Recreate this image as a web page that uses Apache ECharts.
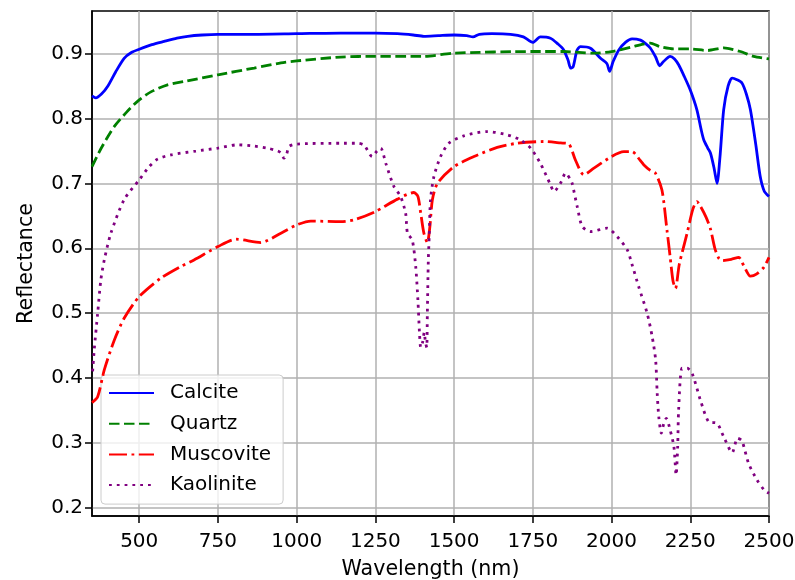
<!DOCTYPE html>
<html>
<head>
<meta charset="utf-8">
<script src="https://cdn.jsdelivr.net/npm/echarts@6/dist/echarts.min.js"></script>
<style>
html,body{margin:0;padding:0;background:#fff;}
#chart{width:795px;height:580px;}
</style>
</head>
<body>
<div id="chart"></div>
<script>
// Tick labels
var xTicks = [500, 750, 1000, 1250, 1500, 1750, 2000, 2250, 2500];
var yTicks = [0.2, 0.3, 0.4, 0.5, 0.6, 0.7, 0.8, 0.9];

var seriesNames = ['Calcite', 'Quartz', 'Muscovite', 'Kaolinite'];

// Calcite
var calciteWl = [350,362,380,400,425,452,475,500,540,579,620,654,700,750,850,1000,1140,1250,1320,1370,1404,1450,1500,1540,1560,1580,1620,1679,1720,1750,1774,1806,1830,1848,1862,1870,1878,1890,1901,1933,1965,1985,1994,2005,2023,2045,2065,2092,2110,2123,2140,2153,2165,2186,2200,2213,2230,2250,2271,2285,2293,2305,2314,2325,2335,2345,2356,2370,2383,2398,2414,2428,2441,2458,2472,2485,2500];
var calciteVal = [0.835,0.832,0.838,0.850,0.872,0.893,0.902,0.907,0.914,0.919,0.924,0.927,0.929,0.930,0.930,0.931,0.932,0.932,0.931,0.929,0.927,0.928,0.929,0.928,0.926,0.930,0.931,0.930,0.926,0.9175,0.926,0.924,0.915,0.906,0.890,0.878,0.880,0.905,0.911,0.9085,0.893,0.885,0.873,0.888,0.906,0.918,0.923,0.921,0.915,0.909,0.895,0.8815,0.888,0.896,0.892,0.883,0.866,0.844,0.8135,0.782,0.767,0.755,0.747,0.725,0.700,0.745,0.8135,0.850,0.8625,0.860,0.855,0.838,0.8135,0.760,0.711,0.688,0.680];

// Quartz
var quartzWl = [350,380,421,460,500,540,590,650,750,865,950,1000,1140,1250,1404,1500,1750,1848,1944,2000,2060,2100,2123,2153,2197,2250,2304,2356,2409,2451,2500];
var quartzVal = [0.726,0.755,0.788,0.810,0.829,0.842,0.852,0.858,0.8676,0.878,0.886,0.889,0.895,0.896,0.896,0.901,0.9035,0.9035,0.901,0.9035,0.910,0.915,0.9165,0.911,0.9075,0.9075,0.905,0.909,0.9035,0.896,0.892];

// Muscovite
var muscoviteWl = [350,368,389,421,452,500,569,632,674,750,807,886,950,1000,1045,1140,1182,1250,1320,1372,1385,1394,1404,1415,1423,1431,1447,1500,1563,1637,1700,1785,1838,1864,1885,1912,1944,2000,2039,2065,2092,2102,2123,2139,2160,2176,2186,2195,2203,2215,2240,2258,2271,2282,2300,2314,2328,2340,2351,2380,2404,2420,2441,2460,2484,2500];
var muscoviteVal = [0.362,0.371,0.4123,0.4586,0.492,0.5255,0.554,0.572,0.582,0.6026,0.614,0.6088,0.6233,0.636,0.642,0.641,0.6438,0.6566,0.6758,0.686,0.680,0.654,0.6233,0.609,0.633,0.675,0.700,0.726,0.7415,0.7555,0.762,0.7647,0.7625,0.761,0.7364,0.7133,0.7236,0.7415,0.749,0.749,0.735,0.729,0.720,0.716,0.690,0.628,0.587,0.550,0.538,0.575,0.6233,0.660,0.672,0.665,0.648,0.630,0.600,0.585,0.581,0.583,0.586,0.573,0.557,0.560,0.571,0.586];

// Kaolinite
var kaoliniteWl = [352,357,368,378,389,410,452,500,530,558,600,680,750,812,860,907,940,950,960,968,976,1000,1140,1193,1214,1240,1255,1267,1283,1309,1330,1346,1352,1367,1378,1385,1390,1394,1400,1405,1409,1413,1415,1418,1421,1425,1436,1457,1483,1531,1605,1669,1711,1743,1774,1806,1817,1838,1854,1870,1875,1891,1907,1933,1986,2018,2050,2065,2086,2113,2129,2140,2145,2150,2158,2166,2174,2186,2198,2205,2210,2213,2224,2240,2256,2282,2308,2335,2356,2383,2400,2414,2435,2462,2485,2500];
var kaoliniteVal = [0.41,0.4432,0.4998,0.551,0.582,0.6233,0.675,0.7055,0.725,0.7375,0.744,0.750,0.7545,0.7596,0.758,0.7545,0.750,0.747,0.739,0.745,0.757,0.7607,0.762,0.762,0.759,0.7415,0.750,0.7545,0.731,0.695,0.680,0.654,0.623,0.613,0.572,0.52,0.47,0.447,0.455,0.47,0.455,0.447,0.50,0.58,0.62,0.675,0.711,0.7415,0.762,0.7735,0.780,0.775,0.767,0.7545,0.731,0.698,0.6875,0.7005,0.716,0.7055,0.700,0.664,0.6335,0.6258,0.631,0.618,0.5975,0.575,0.541,0.4998,0.4637,0.4278,0.376,0.340,0.3147,0.330,0.3377,0.3198,0.294,0.2503,0.294,0.351,0.415,0.415,0.407,0.366,0.3326,0.330,0.3094,0.2847,0.307,0.303,0.2684,0.2426,0.227,0.222];

function pairs(xs, ys) {
  var out = [];
  for (var i = 0; i < xs.length; i++) out.push([xs[i], ys[i]]);
  return out;
}

var FONT = 'DejaVu Sans';
var chart = echarts.init(document.getElementById('chart'), null, {renderer: 'canvas'});

function mkSeries(name, xs, ys, color, dash, z) {
  return {
    name: name,
    type: 'line',
    data: pairs(xs, ys),
    symbol: 'none',
    showSymbol: false,
    smooth: 0.25,
    z: z,
    lineStyle: {color: color, width: 2.8, type: dash, cap: 'butt'},
    itemStyle: {color: color},
    emphasis: {disabled: true}
  };
}

chart.setOption({
  animation: false,
  backgroundColor: '#ffffff',
  grid: {
    left: 92, right: 26, top: 11, bottom: 64,
    outerBoundsMode: 'none',
    containLabel: false,
    show: true, borderColor: '#000', borderWidth: 1.5, backgroundColor: 'transparent'
  },
  legend: {
    orient: 'vertical',
    left: 101, top: 375,
    data: seriesNames,
    itemWidth: 45,
    itemHeight: 12,
    itemGap: 10.7,
    padding: [8, 12, 9, 7],
    backgroundColor: 'rgba(255,255,255,0.8)',
    borderColor: '#cccccc',
    borderWidth: 1,
    borderRadius: 4,
    itemStyle: {opacity: 0},
    textStyle: {fontFamily: FONT, fontSize: 20, color: '#000', padding: [0, 0, 0, 11]}
  },
  xAxis: {
    type: 'value',
    min: 350, max: 2500,
    name: 'Wavelength (nm)',
    nameLocation: 'middle',
    nameGap: 43,
    nameTextStyle: {fontFamily: FONT, fontSize: 20.6, color: '#000'},
    axisLine: {show: true, onZero: false, lineStyle: {color: '#000', width: 1.5}},
    axisTick: {show: true, length: 7, customValues: xTicks, lineStyle: {color: '#000', width: 1.5}},
    axisLabel: {customValues: xTicks, fontFamily: FONT, fontSize: 20, color: '#000', margin: 16,
      formatter: function (v) { return String(v); }},
    splitLine: {show: true, lineStyle: {color: '#b0b0b0', width: 1.5}}
  },
  yAxis: {
    type: 'value',
    min: 0.187, max: 0.966,
    name: 'Reflectance',
    nameLocation: 'middle',
    nameGap: 55,
    nameRotate: 90,
    nameTextStyle: {fontFamily: FONT, fontSize: 20.6, color: '#000'},
    axisLine: {show: true, onZero: false, lineStyle: {color: '#000', width: 1.5}},
    axisTick: {show: true, length: 7, customValues: yTicks, lineStyle: {color: '#000', width: 1.5}},
    axisLabel: {customValues: yTicks, fontFamily: FONT, fontSize: 20, color: '#000', margin: 9,
      formatter: function (v) { return v.toFixed(1); }},
    splitLine: {show: true, lineStyle: {color: '#b0b0b0', width: 1.5}}
  },
  series: [
    mkSeries('Calcite', calciteWl, calciteVal, '#0000ff', 'solid', 2),
    mkSeries('Quartz', quartzWl, quartzVal, '#008000', [10.5, 4.5], 3),
    mkSeries('Muscovite', muscoviteWl, muscoviteVal, '#ff0000', [18, 4.5, 2.8, 4.5], 4),
    mkSeries('Kaolinite', kaoliniteWl, kaoliniteVal, '#800080', [2.8, 5], 5)
  ]
});
</script>
</body>
</html>
